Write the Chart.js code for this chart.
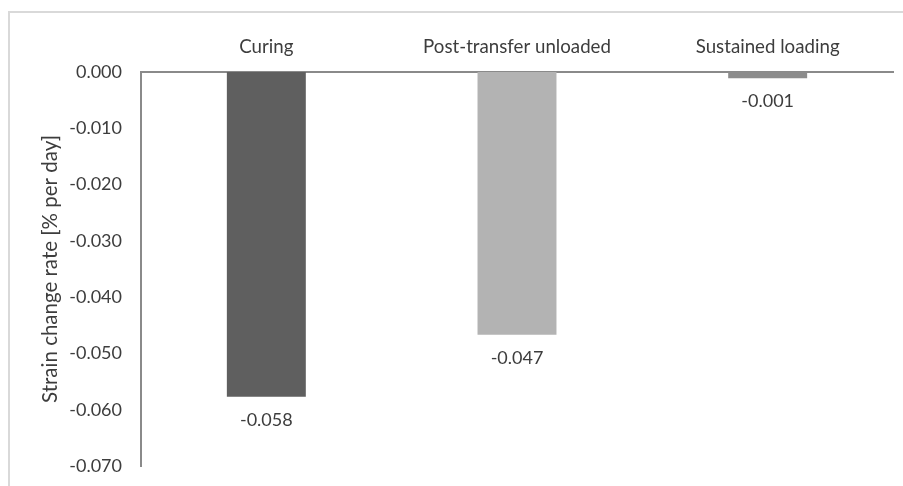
<!DOCTYPE html>
<html>
<head>
<meta charset="utf-8">
<script src="https://cdn.jsdelivr.net/npm/chart.js@4/dist/chart.umd.min.js"></script>
<style>
  html, body { margin: 0; padding: 0; background: #ffffff; }
  #wrap { position: relative; width: 903px; height: 486px; overflow: hidden; }
</style>
</head>
<body>
<div id="wrap"><canvas id="chart" width="903" height="486"></canvas></div>
<script>
// Strain change rate per phase
const categories = ['Curing', 'Post-transfer unloaded', 'Sustained loading'];
const rates = [-0.0577, -0.0467, -0.0011];
const barColors = ['#5f5f5f', '#b3b3b3', '#8c8c8c'];
const yTicks = [0, -0.01, -0.02, -0.03, -0.04, -0.05, -0.06, -0.07];

const FONT = 'Lato, "Open Sans", sans-serif';
const TEXT = '#3d3d3d';
const AXIS = '#8a8a8a';
const PLOT_BOTTOM_GAP = 20;

// light outer frame of the chart object
const framePlugin = {
  id: 'frame',
  beforeDraw(chart) {
    const ctx = chart.ctx;
    ctx.save();
    ctx.strokeStyle = '#d9d9d9';
    ctx.lineWidth = 2;
    ctx.beginPath();
    ctx.moveTo(9, chart.height + 5);
    ctx.lineTo(9, 12);
    ctx.lineTo(chart.width + 5, 12);
    ctx.stroke();
    ctx.restore();
  }
};

// let the plot area run down close to the bottom edge
const plotBottom = {
  id: 'plotBottom',
  afterLayout(chart) {
    const bottom = chart.height - PLOT_BOTTOM_GAP;
    const y = chart.scales.y;
    y.bottom = bottom;
    y.height = bottom - y.top;
    y.configure();
    chart.chartArea.bottom = bottom;
    chart.chartArea.height = bottom - chart.chartArea.top;
  }
};

// value labels below each bar end
const valueLabels = {
  id: 'valueLabels',
  afterDatasetsDraw(chart) {
    const ctx = chart.ctx;
    const meta = chart.getDatasetMeta(0);
    ctx.save();
    ctx.font = '18px ' + FONT;
    ctx.fillStyle = TEXT;
    ctx.textAlign = 'center';
    ctx.textBaseline = 'middle';
    meta.data.forEach((bar, i) => {
      const v = chart.data.datasets[0].data[i];
      ctx.fillText(v.toFixed(3), bar.x, bar.y + 23);
    });
    ctx.restore();
  }
};

new Chart(document.getElementById('chart'), {
  type: 'bar',
  data: {
    labels: categories,
    datasets: [{
      data: rates,
      backgroundColor: barColors,
      borderWidth: 0,
      categoryPercentage: 0.315,
      barPercentage: 1
    }]
  },
  options: {
    responsive: false,
    animation: false,
    devicePixelRatio: 1,
    layout: { padding: { top: 0, right: 10, bottom: 20, left: 0 } },
    plugins: {
      legend: { display: false },
      tooltip: { enabled: false }
    },
    scales: {
      x: {
        position: 'top',
        grid: { display: false, drawTicks: false },
        border: { display: true, color: AXIS, width: 2 },
        ticks: { color: TEXT, font: { family: FONT, size: 18.7 }, padding: 14, maxRotation: 0 },
        afterFit(scale) { scale.height = 72; }
      },
      y: {
        min: -0.07,
        max: 0,
        grid: { display: false, drawTicks: false },
        border: { display: true, color: AXIS, width: 2 },
        afterBuildTicks(scale) { scale.ticks = yTicks.map(v => ({ value: v })); },
        ticks: {
          color: TEXT,
          font: { family: FONT, size: 18 },
          padding: 19,
          callback: v => Number(v).toFixed(3)
        },
        title: {
          display: true,
          text: 'Strain change rate [% per day]',
          color: TEXT,
          font: { family: FONT, size: 20.5 },
          padding: { top: 38, bottom: 0 }
        },
        afterFit(scale) { scale.width = 141; }
      }
    }
  },
  plugins: [framePlugin, plotBottom, valueLabels]
});
</script>
</body>
</html>
